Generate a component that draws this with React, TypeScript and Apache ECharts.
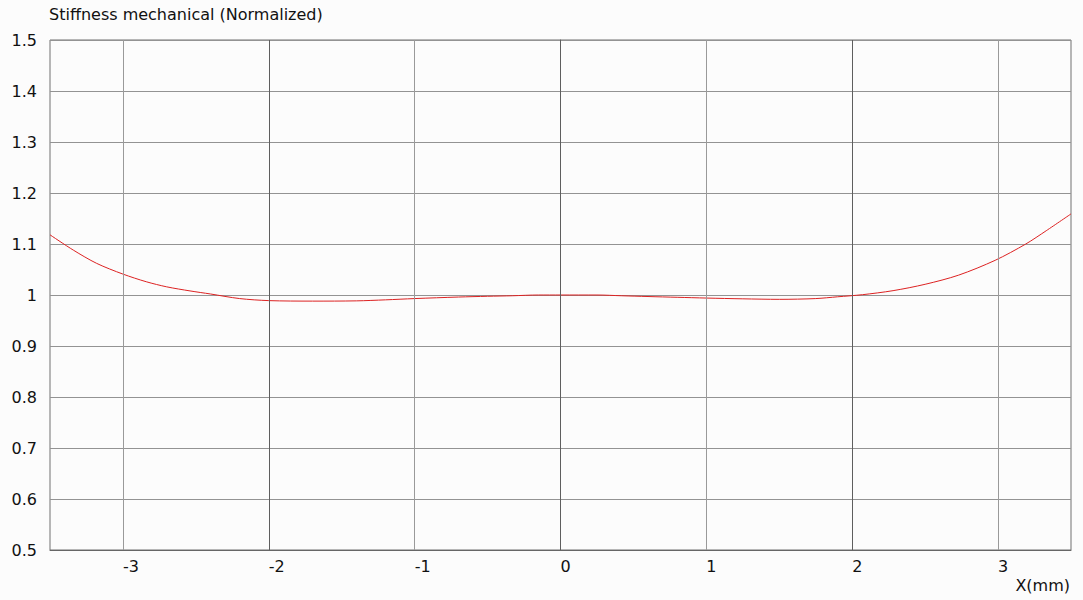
import React, { useEffect, useRef } from "react";
import * as echarts from "echarts";

// curve samples (x in mm, normalized stiffness)
const xPositions = [
  -3.5, -3.34, -3.18, -3.0, -2.84, -2.7, -2.54, -2.4, -2.2, -2.0, -1.7, -1.4,
  -1.2, -1.0, -0.7, -0.5, -0.33, -0.15, 0.0, 0.25, 0.42, 0.6, 0.8, 1.0, 1.25,
  1.5, 1.75, 1.9, 2.07, 2.28, 2.5, 2.73, 2.98, 3.19, 3.33, 3.5,
];
const stiffness = [
  1.118, 1.088, 1.062, 1.041, 1.026, 1.016, 1.008, 1.002, 0.993, 0.989, 0.988,
  0.9885, 0.9905, 0.993, 0.996, 0.9975, 0.9985, 1.0, 1.0, 1.0, 0.9985, 0.997,
  0.9955, 0.994, 0.9925, 0.9915, 0.993, 0.9965, 1.0006, 1.0085, 1.021, 1.039,
  1.068, 1.1, 1.126, 1.159,
];
const xTicks = [-3, -2, -1, 0, 1, 2, 3];

const FONT = "DejaVu Sans";

export default function App() {
  const chartRef = useRef<HTMLDivElement>(null);

  useEffect(() => {
    document.body.style.margin = "0";
    if (!chartRef.current) return;
    const chart = echarts.init(chartRef.current, null, { renderer: "svg" });

    const option = {
      animation: false,
      backgroundColor: "#fcfcfc",
      textStyle: { fontFamily: FONT },
      title: {
        text: "Stiffness mechanical (Normalized)",
        left: 44,
        top: 1,
        textStyle: { fontFamily: FONT, fontSize: 16, fontWeight: "normal", color: "#111" },
      },
      graphic: [
        {
          type: "text",
          right: 13,
          top: 577,
          style: { text: "X(mm)", fontFamily: FONT, fontSize: 16, fill: "#111" },
        },
      ],
      grid: {
        left: 50,
        right: 12,
        top: 40,
        bottom: 50,
        show: true,
        borderColor: "#707070",
        borderWidth: 1,
      },
      xAxis: {
        type: "value",
        min: -3.5,
        max: 3.5,
        axisLine: { show: true, onZero: false, lineStyle: { color: "#666" } },
        axisTick: { show: false },
        splitLine: { show: false },
        axisLabel: {
          customValues: xTicks,
          align: "left",
          margin: 8,
          fontFamily: FONT,
          fontSize: 16,
          color: "#111",
        },
      },
      yAxis: {
        type: "value",
        min: 0.5,
        max: 1.5,
        interval: 0.1,
        axisLine: { show: true, lineStyle: { color: "#666" } },
        axisTick: { show: false },
        splitLine: { show: true, lineStyle: { color: "#939393", width: 1 } },
        axisLabel: {
          margin: 13,
          fontFamily: FONT,
          fontSize: 16,
          color: "#111",
          formatter: (v: number) => String(Math.round(v * 10) / 10),
        },
      },
      series: [
        {
          type: "line",
          data: [],
          z: 1,
          silent: true,
          markLine: {
            silent: true,
            symbol: "none",
            label: { show: false },
            data: xTicks.map((t) => ({
              xAxis: t,
              lineStyle: {
                color: t % 2 === 0 ? "#5e5e5e" : "#9a9a9a",
                width: 1,
                type: "solid",
              },
            })),
          },
        },
        {
          type: "line",
          z: 3,
          data: xPositions.map((x, i) => [x, stiffness[i]]),
          showSymbol: false,
          smooth: 0.3,
          lineStyle: { color: "#dd2222", width: 1 },
        },
      ],
    };

    chart.setOption(option);
    return () => chart.dispose();
  }, []);

  return <div ref={chartRef} style={{ width: 1083, height: 600 }} />;
}
